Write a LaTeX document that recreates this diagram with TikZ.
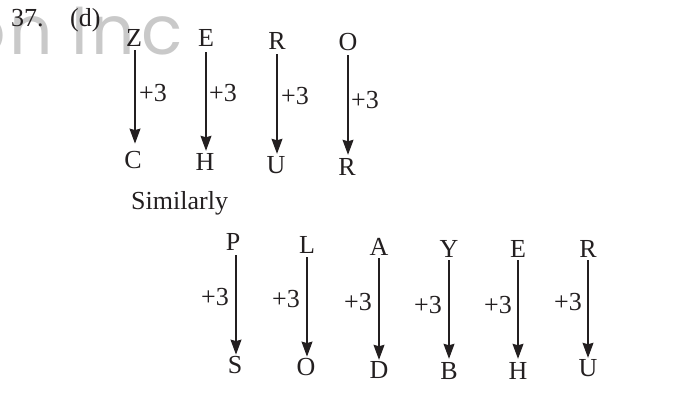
\documentclass[tikz,border=0pt]{standalone}
\usepackage{fontspec}
\setmainfont{Liberation Serif}
\newfontfamily\wmfont{Poppins}
\usetikzlibrary{arrows.meta}
\definecolor{ink}{HTML}{231F20}
\tikzset{
  letter/.style={inner sep=0pt, anchor=base, text=ink, font=\fontsize{26}{30}\selectfont},
  lbl/.style={inner sep=0pt, anchor=base west, text=ink, font=\fontsize{26}{30}\selectfont},
  wm/.style={inner sep=0pt, anchor=base, text=black!21, font=\wmfont\fontsize{68}{70}\selectfont},
  arr/.style={draw=ink, line width=1.1pt, -{Stealth[length=15pt,width=11pt,inset=1.5pt]}}
}
\begin{document}
\begin{tikzpicture}[x=1pt,y=-1pt]
\useasboundingbox (0,0) rectangle (692,393);
\begin{scope}
\clip (0,0) rectangle (692,393);
\node[wm] (w0) at (-16,55) {o};
\node[wm] (w1) at (31,55) {n};
\node[wm] (w2) at (80,55) {I};
\node[wm] (w3) at (113,55) {n};
\node[wm] (w4) at (162,55) {c};
\end{scope}
\node[lbl] (num) at (11,27) {37.};
\node[lbl] (opt) at (70,27) {(d)};
% top row
\node[letter] (t1) at (134,47) {Z};
\node[letter] (t2) at (206,47) {E};
\node[letter] (t3) at (277,50) {R};
\node[letter] (t4) at (348,51) {O};
\node[letter] (b1) at (133,168) {C};
\node[letter] (b2) at (205,170) {H};
\node[letter] (b3) at (276,173) {U};
\node[letter] (b4) at (347,175) {R};
\draw[arr, shorten <=3pt, shorten >=7pt] ([xshift=1pt]t1.south) -- ([xshift=1pt]t1.south |- b1.north);
\draw[arr, shorten <=5pt, shorten >=2pt] (t2.south) -- (t2.south |- b2.north);
\draw[arr, shorten <=4pt, shorten >=2pt] (t3.south) -- (t3.south |- b3.north);
\draw[arr, shorten <=4pt, shorten >=3pt] (t4.south) -- (t4.south |- b4.north);
\node[lbl] (l1) at (139,102) {+3};
\node[lbl] (l2) at (209,102) {+3};
\node[lbl] (l3) at (281,105) {+3};
\node[lbl] (l4) at (351,108) {+3};
\node[lbl] (sim) at (131,209) {Similarly};
% bottom row
\node[letter] (p1) at (233,250) {P};
\node[letter] (p2) at (307,253) {L};
\node[letter] (p3) at (379,255) {A};
\node[letter] (p4) at (449,257) {Y};
\node[letter] (p5) at (518,257) {E};
\node[letter] (p6) at (588,257) {R};
\node[letter] (q1) at (235,373) {S};
\node[letter] (q2) at (306,375) {O};
\node[letter] (q3) at (379,378) {D};
\node[letter] (q4) at (449,379) {B};
\node[letter] (q5) at (518,379) {H};
\node[letter] (q6) at (588,376) {U};
\draw[arr, shorten <=5pt, shorten >=1pt] ([xshift=3pt]p1.south) -- ([xshift=3pt]p1.south |- q1.north);
\draw[arr, shorten <=4pt, shorten >=1pt] (p2.south) -- (p2.south |- q2.north);
\draw[arr, shorten <=3pt, shorten >=1pt] (p3.south) -- (p3.south |- q3.north);
\draw[arr, shorten <=3pt, shorten >=3pt] (p4.south) -- (p4.south |- q4.north);
\draw[arr, shorten <=3pt, shorten >=3pt] (p5.south) -- (p5.south |- q5.north);
\draw[arr, shorten <=3pt, shorten >=1pt] (p6.south) -- (p6.south |- q6.north);
\node[lbl] (m1) at (201,305) {+3};
\node[lbl] (m2) at (272,307) {+3};
\node[lbl] (m3) at (344,310) {+3};
\node[lbl] (m4) at (414,313) {+3};
\node[lbl] (m5) at (484,313) {+3};
\node[lbl] (m6) at (554,310) {+3};
\end{tikzpicture}
\end{document}
